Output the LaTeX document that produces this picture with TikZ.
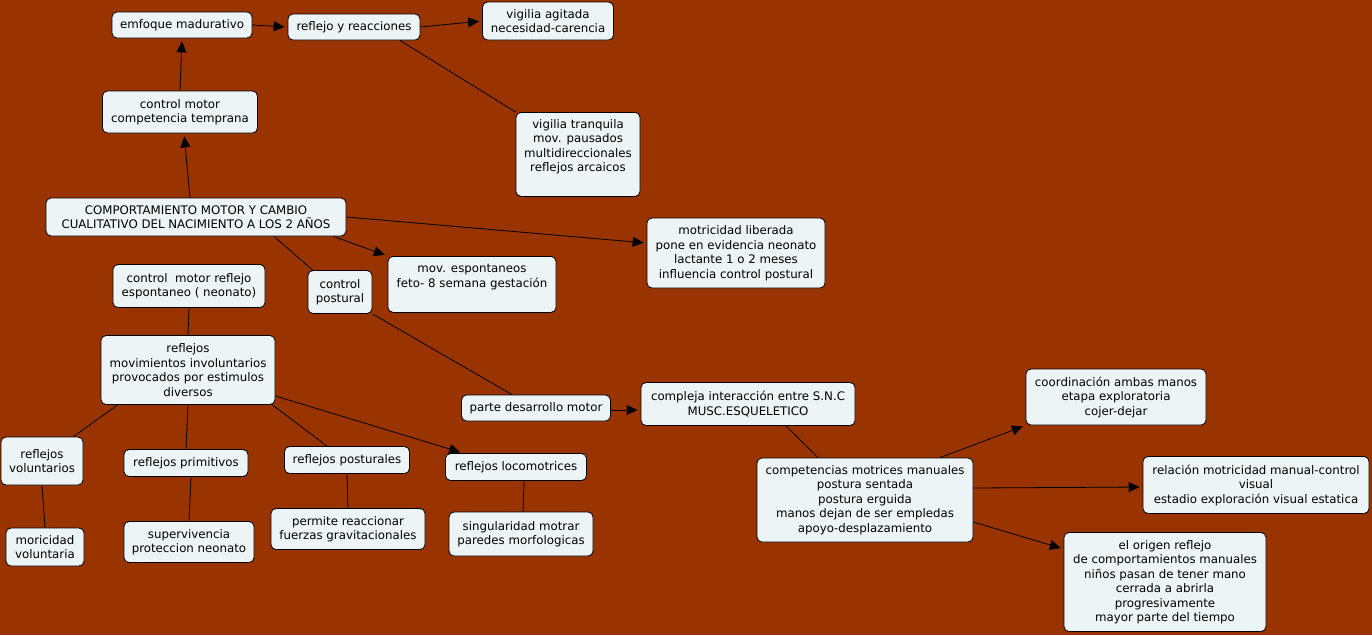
\documentclass[tikz,border=0pt]{standalone}
\usepackage{fontspec}
\setmainfont{DejaVu Sans}
\usetikzlibrary{arrows.meta}
\definecolor{mapbg}{HTML}{993300}
\definecolor{conceptfill}{HTML}{EDF4F6}

\begin{document}
\begin{tikzpicture}[
    x=1pt, y=-1pt,
    concept/.style={rectangle, draw=black, line width=0.8pt, rounded corners=5pt, fill=conceptfill, align=center, inner sep=3pt, font=\fontsize{11.8}{14.5}\selectfont},
    link/.style={line width=0.8pt},
    directed/.style={-{Triangle[length=11pt,width=10pt]}, line width=0.8pt, shorten >=3pt}
]
    \useasboundingbox (0,0) rectangle (1372,635);
    \fill[mapbg] (0,0) rectangle (1372,635);

        \node[concept, minimum width=140pt, minimum height=26pt] (emf) at (182,25) {emfoque madurativo};
        \node[concept, minimum width=132pt, minimum height=26pt] (ryr) at (354,27) {reflejo y reacciones};
        \node[concept, minimum width=131pt, minimum height=38pt] (vag) at (548,21) {vigilia agitada\\necesidad-carencia};
        \node[concept, inner xsep=4pt, anchor=north] (vtr) at (578,112) {\begin{minipage}[c][78pt][t]{116pt}\centering\vspace*{4pt}vigilia tranquila\\mov. pausados\\multidireccionales\\reflejos arcaicos\end{minipage}};
        \node[concept, minimum width=155pt, minimum height=42pt] (cmc) at (180,112) {control motor\\competencia temprana};
        \node[concept, minimum width=300pt, minimum height=38pt] (root) at (196,217) {COMPORTAMIENTO MOTOR Y CAMBIO\\CUALITATIVO DEL NACIMIENTO A LOS 2 AÑOS};
        \node[concept, minimum width=178pt, minimum height=70pt] (mlib) at (736,253) {motricidad liberada\\pone en evidencia neonato\\lactante 1 o 2 meses\\influencia control postural};
        \node[concept, inner xsep=4pt, anchor=north] (mesp) at (472,256) {\begin{minipage}[c][50pt][t]{160pt}\centering\vspace*{5pt}mov. espontaneos\\feto- 8 semana gestación\end{minipage}};
        \node[concept, minimum width=64pt, minimum height=43pt] (cpost) at (340,292) {control\\postural};
        \node[concept, minimum width=152pt, minimum height=43pt] (cmr) at (189,286) {control\ \ motor reflejo\\espontaneo ( neonato)};
        \node[concept, minimum width=174pt, minimum height=69pt] (refl) at (188,370) {reflejos\\movimientos involuntarios\\provocados por estimulos\\diversos};
        \node[concept, minimum width=149pt, minimum height=26pt] (pdm) at (536,408) {parte desarrollo motor};
        \node[concept, minimum width=214pt, minimum height=43pt] (comp) at (748,404) {compleja interacción entre S.N.C\\MUSC.ESQUELETICO};
        \node[concept, minimum width=82pt, minimum height=48pt] (rvol) at (42,461) {reflejos\\voluntarios};
        \node[concept, minimum width=124pt, minimum height=27pt] (rprim) at (186,463) {reflejos primitivos};
        \node[concept, minimum width=125pt, minimum height=27pt] (rpost) at (347,460) {reflejos posturales};
        \node[concept, minimum width=141pt, minimum height=27pt] (rloc) at (516,467) {reflejos locomotrices};
        \node[concept, minimum width=78pt, minimum height=38pt] (mvol) at (45,547) {moricidad\\voluntaria};
        \node[concept, minimum width=130pt, minimum height=41pt] (superv) at (189,542) {supervivencia\\proteccion neonato};
        \node[concept, minimum width=154pt, minimum height=41pt] (perm) at (348,529) {permite reaccionar\\fuerzas gravitacionales};
        \node[concept, minimum width=144pt, minimum height=44pt] (sing) at (521,534) {singularidad motrar\\paredes morfologicas};
        \node[concept, minimum width=216pt, minimum height=84pt] (cmm) at (865,500) {competencias motrices manuales\\postura sentada\\postura erguida\\manos dejan de ser empledas\\apoyo-desplazamiento};
        \node[concept, minimum width=180pt, minimum height=56pt] (coord) at (1116,397) {coordinación ambas manos\\etapa exploratoria\\cojer-dejar};
        \node[concept, minimum width=226pt, minimum height=57pt] (rel) at (1256,485) {relación motricidad manual-control\\visual\\estadio exploración visual estatica};
        \node[concept, minimum width=202pt, minimum height=99pt] (orig) at (1165,582) {el origen reflejo\\de comportamientos manuales\\niños pasan de tener mano\\cerrada a abrirla\\progresivamente\\mayor parte del tiempo};

    \draw [directed] (cmc.north) -- (emf.south);
    \draw [directed] (emf.east) -- (ryr.west);
    \draw [directed] (ryr.east) -- (vag.west);
    \draw [link] ([xshift=46pt]ryr.south) -- (vtr.north west);
    \draw [directed] ([xshift=-6pt]root.north) -- ([xshift=4pt]cmc.south);
    \draw [directed] (root.east) -- ([yshift=10pt]mlib.west);
    \draw [directed] ([xshift=-13pt]root.south east) -- (mesp.north west);
    \draw [link] ([xshift=78pt]root.south) -- ([xshift=5pt]cpost.north west);
    \draw [link] (cpost.south east) -- ([xshift=-24pt]pdm.north);
    \draw [directed] ([yshift=-2pt]pdm.east) -- ([yshift=-6pt]comp.west);
    \draw [link] (cmr.south) -- (refl.north);
    \draw [link] ([xshift=17pt]refl.south west) -- ([xshift=-10pt]rvol.north east);
    \draw [link] (refl.south) -- (rprim.north);
    \draw [link] ([xshift=-3pt]refl.south east) -- ([xshift=-20pt]rpost.north);
    \draw [directed] ([yshift=-26pt]refl.east) -- ([xshift=18pt]rloc.north west);
    \draw [link] (rvol.south) -- (mvol.north);
    \draw [link] ([xshift=5pt]rprim.south) -- (superv.north);
    \draw [link] (rpost.south) -- (perm.north);
    \draw [link] ([xshift=8pt]rloc.south) -- ([xshift=2pt]sing.north);
    \draw [link] ([xshift=38pt]comp.south) -- ([xshift=-47pt]cmm.north);
    \draw [directed] ([xshift=75pt]cmm.north) -- (coord.south west);
    \draw [directed] ([yshift=12pt]cmm.east) -- ([yshift=-2pt]rel.west);
    \draw [directed] ([yshift=-22pt]cmm.east) -- ([yshift=33pt]orig.west);

\end{tikzpicture}
\end{document}
